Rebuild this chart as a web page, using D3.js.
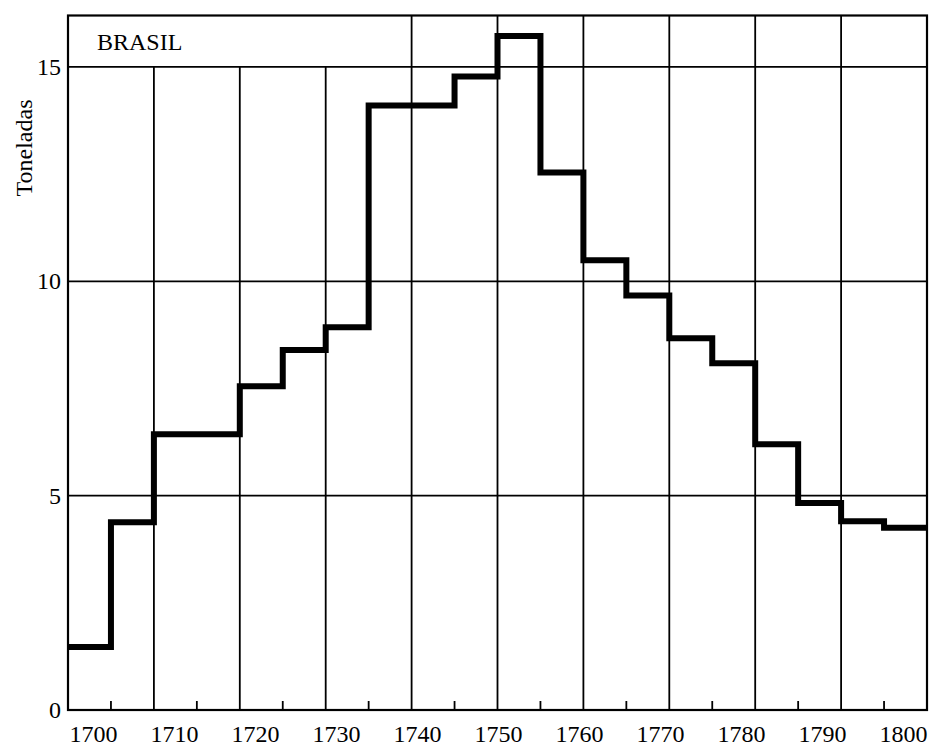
<!DOCTYPE html>
<html>
<head>
<meta charset="utf-8">
<script src="https://cdn.jsdelivr.net/npm/d3@7"></script>
<style>
  html, body { margin: 0; padding: 0; background: #fff; }
  svg { display: block; }
  text { font-family: "Liberation Serif", "DejaVu Serif", serif; fill: #000; }
</style>
</head>
<body>
<svg id="chart" width="934" height="749"></svg>
<script>
// ---- data ----
const periodStarts = [1700,1705,1710,1715,1720,1725,1730,1735,1740,1745,1750,1755,1760,1765,1770,1775,1780,1785,1790,1795];
const tons =         [1.47,4.38,6.43,6.43,7.55,8.40,8.93,14.10,14.10,14.78,15.72,12.54,10.49,9.67,8.67,8.09,6.20,4.83,4.40,4.25];
const periodEnd = 1800;
const decadeTicks = [1700,1710,1720,1730,1740,1750,1760,1770,1780,1790,1800];
const halfDecadeTicks = [1705,1715,1725,1735,1745,1755,1765,1775,1785,1795];
const yTicks = [0,5,10,15];
const countryLabel = "BRASIL";
const yTitle = "Toneladas";

// ---- layout ----
const svg = d3.select("#chart");
const pLeft = 68, pRight = 927, pTop = 15.5, pBottom = 710;
const x = d3.scaleLinear().domain([1700, 1800]).range([pLeft, pRight]);
// the printed year labels sit on a slightly narrower span than the grid
const xLabel = d3.scaleLinear().domain([1700, 1800]).range([93, 903]);
const y = d3.scaleLinear().domain([0, 16.2]).range([pBottom, pTop]);

const g = svg.append("g");

// horizontal grid lines (5,10,15)
g.selectAll("line.hgrid").data(yTicks.filter(d => d > 0)).join("line")
  .attr("x1", pLeft).attr("x2", pRight)
  .attr("y1", d => y(d)).attr("y2", d => y(d))
  .attr("stroke", "#000").attr("stroke-width", 1.8);

// vertical grid lines: first three stop at the 15 line (label box), others reach top
g.selectAll("line.vgrid").data(decadeTicks.slice(1, -1)).join("line")
  .attr("x1", d => x(d)).attr("x2", d => x(d))
  .attr("y1", pBottom)
  .attr("y2", d => d < 1740 ? y(15) : pTop)
  .attr("stroke", "#000").attr("stroke-width", 1.8);

// minor ticks at half decades
g.selectAll("line.minor").data(halfDecadeTicks).join("line")
  .attr("x1", d => x(d)).attr("x2", d => x(d))
  .attr("y1", pBottom).attr("y2", pBottom - 9)
  .attr("stroke", "#000").attr("stroke-width", 1.8);

// frame
g.append("rect")
  .attr("x", pLeft).attr("y", pTop)
  .attr("width", pRight - pLeft).attr("height", pBottom - pTop)
  .attr("fill", "none").attr("stroke", "#000").attr("stroke-width", 2.2);

// step line
const pts = periodStarts.map((d, i) => [d, tons[i]]);
pts.push([periodEnd, tons[tons.length - 1]]);
const line = d3.line().x(d => x(d[0])).y(d => y(d[1])).curve(d3.curveStepAfter);
g.append("path")
  .attr("d", line(pts))
  .attr("fill", "none").attr("stroke", "#000")
  .attr("stroke-width", 6).attr("stroke-linejoin", "miter").attr("stroke-linecap", "butt");

// y axis labels
const yAxis = d3.axisLeft(y).tickValues(yTicks).tickSize(0).tickPadding(7);
const ya = svg.append("g").attr("transform", `translate(${pLeft},0)`).call(yAxis);
ya.select(".domain").remove();
ya.selectAll("text").attr("font-size", 24).attr("font-family", "Liberation Serif").attr("fill", "#000");

// x axis labels
const xAxis = d3.axisBottom(xLabel).tickValues(decadeTicks).tickFormat(d3.format("d")).tickSize(0).tickPadding(15);
const xa = svg.append("g").attr("transform", `translate(0,${pBottom})`).call(xAxis);
xa.select(".domain").remove();
xa.selectAll("text").attr("font-size", 24).attr("font-family", "Liberation Serif").attr("fill", "#000");

// country label
svg.append("text").attr("x", 97).attr("y", 50)
  .attr("font-size", 24).text(countryLabel);

// y title
svg.append("text")
  .attr("transform", `translate(32,148) rotate(-90)`)
  .attr("text-anchor", "middle")
  .attr("font-size", 24).text(yTitle);
</script>
</body>
</html>
